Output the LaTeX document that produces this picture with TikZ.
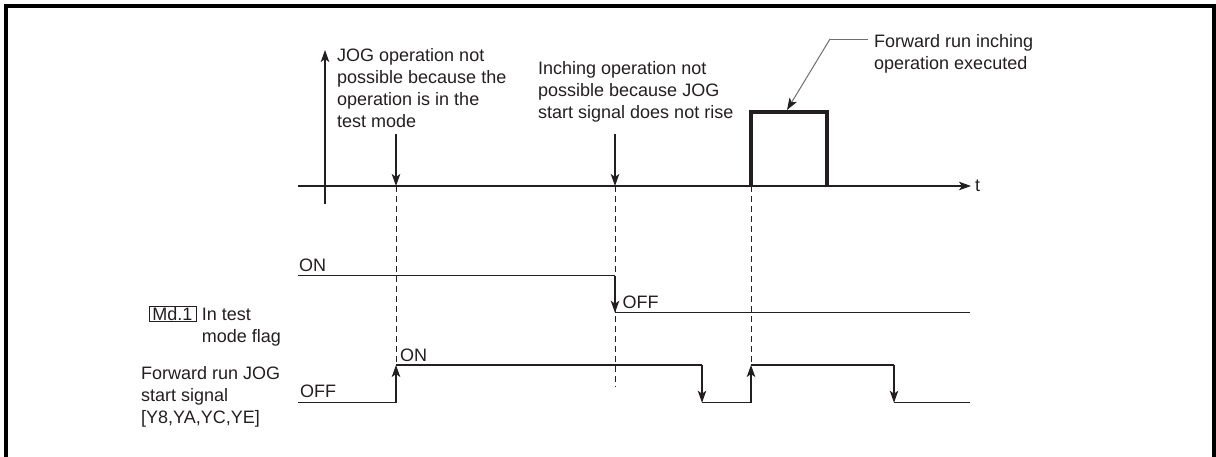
\documentclass[tikz,border=0pt]{standalone}
\usepackage{fontspec}
\setmainfont{Liberation Sans}
\usetikzlibrary{arrows.meta}
\definecolor{ink}{HTML}{231F20}
\definecolor{leadgray}{HTML}{6D6E71}
\begin{document}
\begin{tikzpicture}[x=1pt,y=-1pt,
  txt/.style={font=\fontsize{18}{22}\selectfont, text=ink, inner sep=0pt, align=left, anchor=base west},
  axisline/.style={draw=ink, line width=1.3pt},
  sigline/.style={draw=ink, line width=1.5pt},
  guide/.style={draw=ink, line width=1pt, dash pattern=on 6pt off 4pt},
  tipped/.style={-{Stealth[length=12pt,width=8.5pt,inset=3pt]}},
  frameline/.style={draw=black, line width=4pt}]
\useasboundingbox (0,0) rectangle (1216,456);
% frame
\draw[frameline] (6,458) -- (6,5.5) -- (1214.3,5.5) -- (1214.3,458);

% time axis
\coordinate (tA) at (298,186);
\coordinate (tB) at (971,186);
\coordinate (vA) at (325,204);
\coordinate (vB) at (325,50);
\draw[axisline,tipped] (tA) -- (tB);
\node[txt, anchor=west] (tlab) at (975,186) {t};
\draw[axisline,tipped] (vA) -- (vB);

% event markers
\coordinate (e1) at (396,186);
\coordinate (e2) at (615,186);
\coordinate (e3) at (751,186);
\coordinate (e1top) at (396,134);
\coordinate (e2top) at (615,134);
\draw[axisline,tipped] (e1top) -- (e1);
\draw[axisline,tipped] (e2top) -- (e2);

% guides
\coordinate (g1) at (396,365);
\coordinate (g2) at (615,387);
\coordinate (g3) at (751,365);
\draw[guide] (e1) -- (g1);
\draw[guide] (e2) -- (g2);
\draw[guide] (e3) -- (g3);

% pulse
\coordinate (p1) at (751,112);
\coordinate (p2) at (827,112);
\coordinate (p3) at (827,186);
\draw[draw=ink, line width=3.2pt, line join=miter] (e3) -- (p1) -- (p2) -- (p3);

% texts top (anchor point = baseline of last line)
\node[txt] (noteA) at (337,127) {JOG operation not\\possible because the\\operation is in the\\test mode};
\node[txt] (noteB) at (538,118.5) {Inching operation not\\possible because JOG\\start signal does not rise};
\node[txt] (noteC) at (874,69.5) {Forward run inching\\operation executed};
\coordinate (l1) at (868,39);
\coordinate (l2) at (830,39);
\coordinate (l3) at (787,110);
\draw[draw=leadgray, line width=1pt] (l1) -- (l2);
\draw[draw=leadgray, line width=1pt, -{Stealth[length=12pt,width=8.5pt,inset=3pt,color=ink,fill=ink]}] (l2) -- (l3);

% test mode flag signal
\coordinate (f0) at (298,275.7);
\coordinate (f1) at (615,275.7);
\coordinate (f2) at (615,312.7);
\coordinate (f3) at (970,312.7);
\draw[sigline] (f0) -- (f1);
\draw[sigline,tipped] (f1) -- (f2);
\draw[sigline] (f2) -- (f3);
\node[txt] (fon) at (299,271.7) {ON};
\node[txt] (foff) at (622.5,308) {OFF};

% JOG start signal
\coordinate (j0) at (298,402.7);
\coordinate (j1) at (396,402.7);
\coordinate (j2) at (396,365);
\coordinate (j3) at (702,365);
\coordinate (j4) at (702,402.7);
\coordinate (j5) at (751,402.7);
\coordinate (j6) at (751,365);
\coordinate (j7) at (894,365);
\coordinate (j8) at (894,402.7);
\coordinate (j9) at (970,402.7);
\draw[sigline] (j0) -- (j1);
\draw[sigline,tipped] (j1) -- (j2);
\draw[sigline] (j2) -- (j3);
\draw[sigline,tipped] (j3) -- (j4);
\draw[sigline] (j4) -- (j5);
\draw[sigline,tipped] (j5) -- (j6);
\draw[sigline] (j6) -- (j7);
\draw[sigline,tipped] (j7) -- (j8);
\draw[sigline] (j8) -- (j9);
\node[txt] (jon) at (400,361.7) {ON};
\node[txt] (joff) at (300,397.5) {OFF};

% left labels
\node[draw=ink, line width=0.8pt, font=\fontsize{18}{22}\selectfont, text=ink, inner sep=0pt,
      minimum width=47pt, minimum height=14.5pt] (md) at (172.5,313.9) {Md.1};
\node[txt] (flagname) at (201.7,342.3) {In test\\mode flag};
\node[txt] (jogname) at (141,423.3) {Forward run JOG\\start signal\\{[}Y8,YA,YC,YE{]}};
\end{tikzpicture}
\end{document}
